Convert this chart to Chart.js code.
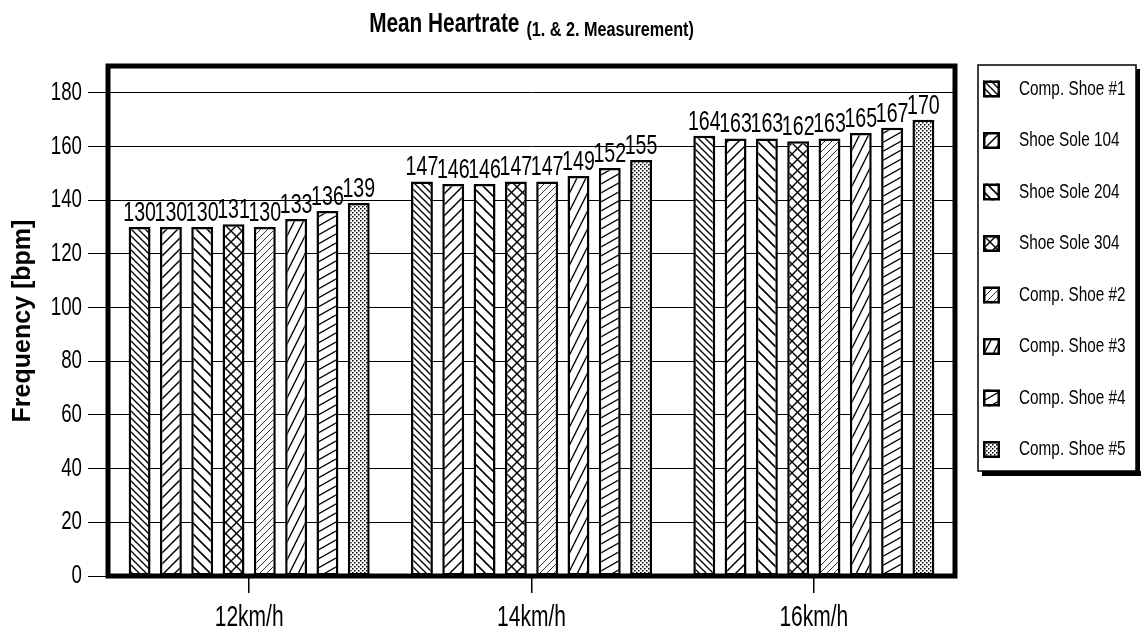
<!DOCTYPE html>
<html lang="en">
<head>
<meta charset="UTF-8">
<title>Mean Heartrate</title>
<script src="https://cdn.jsdelivr.net/npm/chart.js@4.4.1/dist/chart.umd.min.js"></script>
<style>
  html, body { margin: 0; padding: 0; background: #fff; }
  .wrap { position: relative; width: 1141px; height: 633px; }
</style>
</head>
<body>
<div class="wrap"><canvas id="hrChart"></canvas></div>
<script>
  // categories and values (bpm)
  const speeds = ['12km/h', '14km/h', '16km/h'];
  const compShoe1 = [130, 147, 164];
  const shoeSole104 = [130, 146, 163];
  const shoeSole204 = [130, 146, 163];
  const shoeSole304 = [131, 147, 162];
  const compShoe2 = [130, 147, 163];
  const compShoe3 = [133, 149, 165];
  const compShoe4 = [136, 152, 167];
  const compShoe5 = [139, 155, 170];
  const yTickValues = [0, 20, 40, 60, 80, 100, 120, 140, 160, 180];

  const SANS = "'Liberation Sans', Arial, sans-serif";

  // hatch tile: lines through (0,h)-(w,0) for '/', (0,0)-(w,h) for '\'
  function hatch(kind, w, h, lw, color) {
    const c = document.createElement('canvas');
    c.width = w; c.height = h;
    const g = c.getContext('2d');
    g.fillStyle = '#fff';
    g.fillRect(0, 0, w, h);
    g.strokeStyle = color || '#000';
    g.lineWidth = lw;
    const line = (x0, y0, x1, y1) => {
      [-w, 0, w].forEach(dx => {
        g.beginPath();
        g.moveTo(x0 + dx, y0);
        g.lineTo(x1 + dx, y1);
        g.stroke();
      });
    };
    if (kind === '/' || kind === 'x') line(-w, 2 * h, 2 * w, -h);
    if (kind === '\\' || kind === 'x') line(-w, -h, 2 * w, 2 * h);
    return g.createPattern(c, 'repeat');
  }

  function dots() {
    const c = document.createElement('canvas');
    c.width = 4; c.height = 4;
    const g = c.getContext('2d');
    g.fillStyle = '#fff';
    g.fillRect(0, 0, 4, 4);
    g.fillStyle = '#000';
    g.fillRect(0, 0, 1.5, 1.5);
    g.fillRect(2, 2, 1.5, 1.5);
    return g.createPattern(c, 'repeat');
  }

  function series(label, data, fill) {
    return {
      label: label,
      data: data,
      backgroundColor: fill,
      borderColor: '#000',
      borderWidth: 2.5,
      borderSkipped: false
    };
  }

  // text squeezed sideways, like the narrow font of the original
  function narrowText(ctx, text, x, y, size, weight, sx, align, baseline) {
    ctx.save();
    ctx.translate(x, y);
    ctx.scale(sx, 1);
    ctx.font = weight + ' ' + size + 'px ' + SANS;
    ctx.fillStyle = '#000';
    ctx.textAlign = align;
    ctx.textBaseline = baseline;
    ctx.fillText(text, 0, 0);
    ctx.restore();
  }

  function textWidth(ctx, text, size, weight, sx) {
    ctx.save();
    ctx.font = weight + ' ' + size + 'px ' + SANS;
    const w = ctx.measureText(text).width * sx;
    ctx.restore();
    return w;
  }

  // title with subscript part, centred over the plot
  const titlePlugin = {
    id: 'mainTitle',
    afterDraw(chart) {
      const ctx = chart.ctx;
      const area = chart.chartArea;
      const main = 'Mean Heartrate';
      const sub = '(1. & 2. Measurement)';
      const w1 = textWidth(ctx, main, 27, 'bold', 0.77);
      const w2 = textWidth(ctx, sub, 20, 'bold', 0.81);
      const x = (area.left + area.right) / 2 - (w1 + 7 + w2) / 2;
      narrowText(ctx, main, x, 32, 27, 'bold', 0.77, 'left', 'alphabetic');
      narrowText(ctx, sub, x + w1 + 7, 36, 20, 'bold', 0.81, 'left', 'alphabetic');
    }
  };

  // tick labels in the tall narrow style, placed by the chart's own scales
  const axisLabels = {
    id: 'axisLabels',
    afterDraw(chart) {
      const ctx = chart.ctx;
      const ys = chart.scales.y;
      const xs = chart.scales.x;
      ys.ticks.forEach(t => {
        narrowText(ctx, String(t.value), ys.right - 26, ys.getPixelForValue(t.value), 26, 'normal', 0.72, 'right', 'middle');
      });
      xs.ticks.forEach((t, i) => {
        narrowText(ctx, speeds[t.value], xs.getPixelForTick(i), xs.top + 50, 30, 'normal', 0.7, 'center', 'alphabetic');
      });
    }
  };

  // thick frame round the plot area
  const framePlugin = {
    id: 'plotFrame',
    afterDatasetsDraw(chart) {
      const { ctx, chartArea: a } = chart;
      ctx.save();
      ctx.strokeStyle = '#000';
      ctx.lineWidth = 5;
      ctx.strokeRect(a.left, a.top, a.right - a.left, a.bottom - a.top);
      ctx.restore();
    }
  };

  // value labels above the bars
  const valueLabels = {
    id: 'valueLabels',
    afterDatasetsDraw(chart) {
      const ctx = chart.ctx;
      chart.data.datasets.forEach((ds, i) => {
        chart.getDatasetMeta(i).data.forEach((bar, j) => {
          narrowText(ctx, String(ds.data[j]), bar.x, bar.y - 6, 28, 'normal', 0.7, 'center', 'alphabetic');
        });
      });
    }
  };

  // legend in a box with a drop shadow, right of the plot
  const legendBox = {
    id: 'legendBox',
    afterDraw(chart) {
      const ctx = chart.ctx;
      const left = chart.chartArea.right + 23;
      const top = 65;
      const right = 1136;
      const bottom = 471;
      ctx.save();
      ctx.fillStyle = '#000';
      ctx.fillRect(left + 4, bottom, right - left + 2, 5);
      ctx.fillRect(right, top + 4, 4, bottom - top);
      ctx.strokeStyle = '#000';
      ctx.lineWidth = 1.5;
      ctx.strokeRect(left, top, right - left, bottom - top);
      chart.data.datasets.forEach((ds, i) => {
        const cy = top + 24 + i * 51.5;
        ctx.fillStyle = ds.backgroundColor;
        ctx.fillRect(left + 5, cy - 8.5, 17, 17);
        ctx.lineWidth = 2.5;
        ctx.strokeRect(left + 6.25, cy - 7.25, 14.5, 14.5);
        narrowText(ctx, ds.label, left + 41, cy, 21, 'normal', 0.73, 'left', 'middle');
      });
      ctx.restore();
    }
  };

  const ctx = document.getElementById('hrChart').getContext('2d');
  const hrChart = new Chart(ctx, {
    type: 'bar',
    data: {
      labels: speeds,
      datasets: [
        series('Comp. Shoe #1', compShoe1, hatch('\\', 7, 7, 1.3)),
        series('Shoe Sole 104', shoeSole104, hatch('/', 11, 11, 1.5)),
        series('Shoe Sole 204', shoeSole204, hatch('\\', 11, 11, 1.6)),
        series('Shoe Sole 304', shoeSole304, hatch('x', 11, 11, 1.4)),
        series('Comp. Shoe #2', compShoe2, hatch('/', 7, 7, 1, '#333')),
        series('Comp. Shoe #3', compShoe3, hatch('/', 9, 18, 1.3)),
        series('Comp. Shoe #4', compShoe4, hatch('/', 16, 9, 1.3)),
        series('Comp. Shoe #5', compShoe5, dots())
      ]
    },
    options: {
      responsive: true,
      maintainAspectRatio: false,
      animation: false,
      layout: { padding: { top: 66, right: 186, bottom: 0, left: 0 } },
      datasets: { bar: { categoryPercentage: 0.887, barPercentage: 0.70 } },
      plugins: {
        legend: { display: false },
        tooltip: { enabled: false }
      },
      scales: {
        x: {
          grid: { display: true, drawOnChartArea: false, offset: false, tickLength: 17, color: '#000', lineWidth: 1.5 },
          border: { display: false },
          ticks: { color: '#000', padding: 8, callback: () => '' },
          afterFit: s => { s.height = 57; }
        },
        y: {
          min: 0,
          max: 190,
          afterBuildTicks: s => { s.ticks = yTickValues.map(v => ({ value: v })); },
          grid: { color: '#000', lineWidth: 1, tickLength: 20 },
          border: { display: false },
          ticks: { color: '#000', padding: 6, callback: () => '' },
          title: {
            display: true,
            text: 'Frequency [bpm]',
            color: '#000',
            font: { family: SANS, size: 25, weight: 'bold' },
            padding: { top: 8, bottom: 0 }
          },
          afterFit: s => { s.width = 108; }
        }
      }
    },
    plugins: [titlePlugin, axisLabels, framePlugin, valueLabels, legendBox]
  });
</script>
</body>
</html>
